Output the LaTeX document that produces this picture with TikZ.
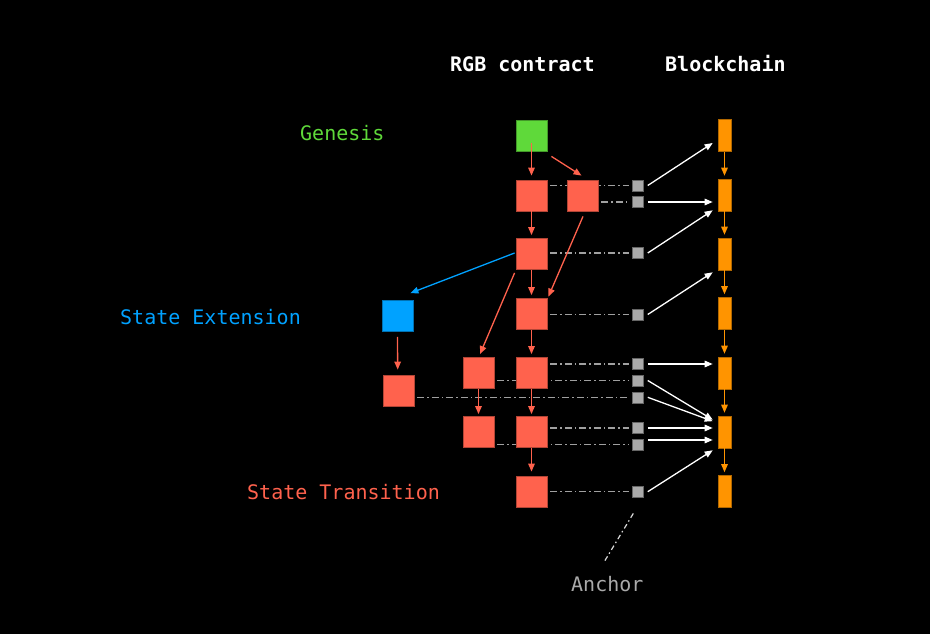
\documentclass[tikz,border=0pt]{standalone}
\usepackage{fontspec}
\setmonofont{DejaVu Sans Mono}
\usetikzlibrary{arrows.meta,calc,backgrounds}
\definecolor{cgreen}{HTML}{5FD93A}
\definecolor{cred}{HTML}{FF624D}
\definecolor{cblue}{HTML}{00A2FF}
\definecolor{corange}{HTML}{FF9400}
\definecolor{cgray}{HTML}{AAAAAA}
\definecolor{cdash}{HTML}{A0A0A0}
\tikzset{
  box/.style={rectangle,inner sep=0pt,minimum width=31pt,minimum height=31pt,line width=0.8pt},
  redbox/.style={box,fill=cred,draw=cred!70!black},
  greenbox/.style={box,fill=cgreen,draw=cgreen!70!black},
  bluebox/.style={box,fill=cblue,draw=cblue!70!black},
  blockbox/.style={rectangle,inner sep=0pt,minimum width=13pt,minimum height=32pt,fill=corange,draw=corange!70!black,line width=0.6pt},
  anchorbox/.style={rectangle,inner sep=0pt,minimum width=11pt,minimum height=11pt,fill=cgray,draw=cgray!60!black,line width=0.5pt},
  dashdot/.style={draw=cdash,line width=1.3pt,dash pattern=on 7pt off 3pt on 1.5pt off 3pt,shorten <=3pt,shorten >=3pt},
  tip/.style={-{Triangle[length=8pt,width=6.5pt]}},
  redarrow/.style={tip,draw=cred,line width=1.3pt},
  bluearrow/.style={tip,draw=cblue,line width=1.3pt},
  orangearrow/.style={tip,draw=corange,line width=1.3pt,shorten >=3pt},
  whitearrow/.style={tip,draw=white,line width=1.3pt},
  lbl/.style={inner sep=0pt,anchor=base west,font=\ttfamily\fontsize{20}{24}\selectfont},
  title/.style={lbl,text=white,font=\ttfamily\bfseries\fontsize{20}{24}\selectfont}
}
\begin{document}
\begin{tikzpicture}[x=1pt,y=-1pt]
\begin{pgfonlayer}{background}
\fill[black] (0,0) rectangle (930,634);
\end{pgfonlayer}
\useasboundingbox (0,0) rectangle (930,634);

% labels
\node[title] (t1) at (450,71.7) {RGB contract};
\node[title] (t2) at (665,71.7) {Blockchain};
\node[lbl,text=cgreen] (lg) at (300,140) {Genesis};
\node[lbl,text=cblue] (lse) at (120,324) {State Extension};
\node[lbl,text=cred] (lst) at (247,499.3) {State Transition};
\node[lbl,text=cgray] (lan) at (571,591) {Anchor};

% contract nodes
\node[greenbox] (g) at (531.5,135.5) {};
\node[redbox] (m1) at (531.5,195.5) {};
\node[redbox] (m2) at (531.5,254) {};
\node[redbox] (m3) at (531.5,314) {};
\node[redbox] (m4) at (531.5,373) {};
\node[redbox] (m5) at (531.5,432) {};
\node[redbox] (m6) at (531.5,491.5) {};
\node[redbox] (b1) at (582.5,195.5) {};
\node[redbox] (c4) at (478.5,373) {};
\node[redbox] (c5) at (478.5,432) {};
\node[bluebox] (se) at (397.5,316) {};
\node[redbox] (sr) at (398.5,391) {};

% blockchain
\node[blockbox] (o0) at (724.5,135.5) {};
\node[blockbox] (o1) at (724.5,195) {};
\node[blockbox] (o2) at (724.5,254) {};
\node[blockbox] (o3) at (724.5,313.5) {};
\node[blockbox] (o4) at (724.5,373) {};
\node[blockbox] (o5) at (724.5,432) {};
\node[blockbox] (o6) at (724.5,491.5) {};

% anchors
\node[anchorbox] (a1) at (638,185.5) {};
\node[anchorbox] (a2) at (638,202) {};
\node[anchorbox] (a3) at (638,253) {};
\node[anchorbox] (a4) at (638,314.5) {};
\node[anchorbox] (a5) at (638,364) {};
\node[anchorbox] (a6) at (638,380.5) {};
\node[anchorbox] (a7) at (638,397.3) {};
\node[anchorbox] (a8) at (638,428) {};
\node[anchorbox] (a9) at (638,444.5) {};
\node[anchorbox] (a10) at (638,491.7) {};

% dash-dot connections (behind nodes)
\begin{pgfonlayer}{background}
\draw[dashdot] (m1.east |- a1) -- (a1.west);
\draw[dashdot] (b1.east |- a2) -- (a2.west);
\draw[dashdot] (m2.east |- a3) -- (a3.west);
\draw[dashdot] (m3.east |- a4) -- (a4.west);
\draw[dashdot] (m4.east |- a5) -- (a5.west);
\draw[dashdot] (c4.east |- a6) -- (a6.west);
\draw[dashdot] (sr.east |- a7) -- (a7.west);
\draw[dashdot] (m5.east |- a8) -- (a8.west);
\draw[dashdot] (c5.east |- a9) -- (a9.west);
\draw[dashdot] (m6.east |- a10) -- (a10.west);
\end{pgfonlayer}

% anchor label pointer
\coordinate (anc) at ($(lan.north)+(-3,-14)$);
\draw[draw=white!85!black,line width=1.2pt,dash pattern=on 5pt off 3pt on 1.5pt off 3pt] ($(a10.south)+(-4.7,16)$) -- (anc);

% red arrows
\draw[redarrow] ($(g.center)+(0,7.5)$) -- ($(m1.north)+(0,-4)$);
\draw[redarrow] ($(g.south east)+(4,5)$) -- ($(b1.north)+(-1,-4)$);
\draw[redarrow] (m1.south) -- ($(m2.north)+(0,-3)$);
\draw[redarrow] (m2.south) -- ($(m3.north)+(0,-3)$);
\draw[redarrow] (m3.south) -- ($(m4.north)+(0,-3)$);
\draw[redarrow] (m4.south) -- ($(m5.north)+(0,-2)$);
\draw[redarrow] (m5.south) -- ($(m6.north)+(0,-4)$);
\draw[redarrow] (c4.south) -- ($(c5.north)+(0,-2)$);
\draw[redarrow] ($(b1.south)+(0.5,5)$) -- ($(m3.north east)+(1,-1.5)$);
\draw[redarrow] ($(m2.south west)+(-1,3)$) -- ($(c4.north)+(1.5,-3)$);
\draw[redarrow] ($(se.south)+(0,5)$) -- ($(sr.north)+(-0.8,-5.5)$);
\draw[bluearrow] ($(m2.west)+(-1,-1)$) -- ($(se.north east)+(-3,-7)$);

% orange arrows
\draw[orangearrow] (o0.south) -- (o1.north);
\draw[orangearrow] (o1.south) -- (o2.north);
\draw[orangearrow] (o2.south) -- (o3.north);
\draw[orangearrow] (o3.south) -- (o4.north);
\draw[orangearrow] (o4.south) -- (o5.north);
\draw[orangearrow] (o5.south) -- (o6.north);

% white arrows
\draw[whitearrow] ($(a1.east)+(4,0)$) -- ($(o0.west)+(-5,7.5)$);
\draw[whitearrow] ($(a2.east)+(4,0)$) -- ($(o1.west |- a2)+(-5,0)$);
\draw[whitearrow] ($(a3.east)+(4,0)$) -- ($(o1.south west)+(-5,-1)$);
\draw[whitearrow] ($(a4.east)+(4,0)$) -- ($(o2.south west)+(-5,2)$);
\draw[whitearrow] ($(a5.east)+(4,0)$) -- ($(o4.west |- a5)+(-5,0)$);
\draw[whitearrow] ($(a6.east)+(4,0)$) -- ($(o5.north west)+(-5,4)$);
\draw[whitearrow] ($(a7.east)+(4,0)$) -- ($(o5.north west)+(-5,5.5)$);
\draw[whitearrow] ($(a8.east)+(4,0)$) -- ($(o5.west |- a8)+(-5,0)$);
\draw[whitearrow] ($(a9.east)+(4,-4.5)$) -- ($(o5.west |- a9)+(-5,-4.5)$);
\draw[whitearrow] ($(a10.east)+(4,0)$) -- ($(o5.south west)+(-5,2)$);
\end{tikzpicture}
\end{document}
